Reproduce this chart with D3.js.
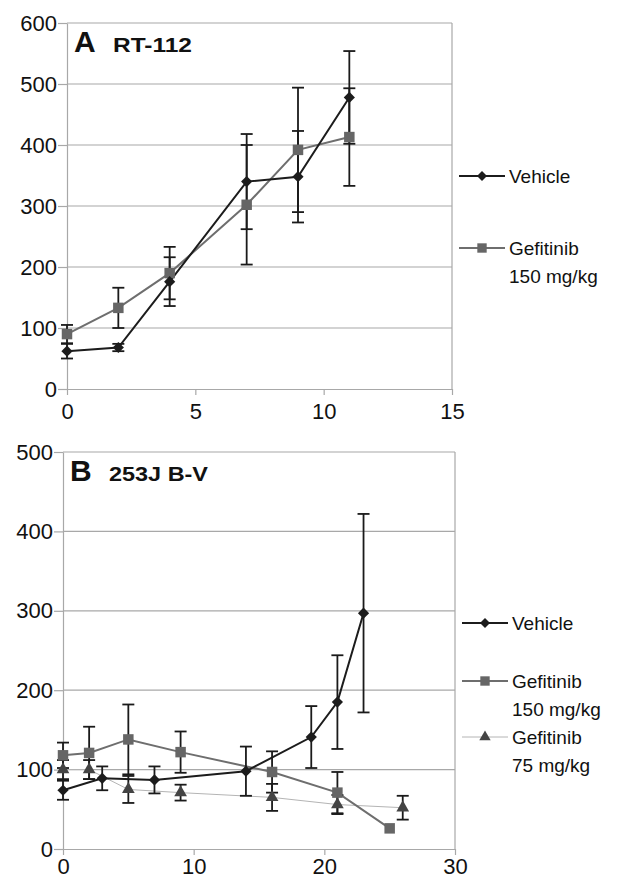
<!DOCTYPE html>
<html>
<head>
<meta charset="utf-8">
<script src="https://cdn.jsdelivr.net/npm/d3@7"></script>
<style>
  body { margin: 0; background: #fff; }
  svg { display: block; font-family: "Liberation Sans", Arial, sans-serif; }
</style>
</head>
<body>
<svg id="chart" width="617" height="880"></svg>
<script>
// ---- panel A: RT-112 ----
var daysA = [0, 2, 4, 7, 9, 11]
var vehA = [62, 68, 176, 340, 348, 478]
var vehA_err = [12, 6, 40, 78, 75, 76]
var g150A = [90, 133, 190, 302, 392, 413]
var g150A_err = [15, 33, 43, 98, 102, 80]
var xTicksA = [0, 5, 10, 15]
var yTicksA = [0, 100, 200, 300, 400, 500, 600]

// ---- panel B: 253J B-V ----
var vehB_days = [0, 3, 7, 14, 19, 21, 23]
var vehB = [74, 89, 87, 98, 141, 185, 297]
var vehB_err = [12, 15, 17, 31, 39, 59, 125]
var g150B_days = [0, 2, 5, 9, 16, 21, 25]
var g150B = [118, 121, 138, 122, 97, 71, 26]
var g150B_err = [16, 33, 44, 26, 26, 26, 0]
var g75B_days = [0, 2, 5, 9, 16, 21, 26]
var g75B = [100, 100, 75, 71, 65, 56, 52]
var g75B_err = [12, 12, 17, 10, 17, 12, 15]
var xTicksB = [0, 10, 20, 30]
var yTicksB = [0, 100, 200, 300, 400, 500]

var svg = d3.select('#chart')

// series styles
var styles = {
  veh: { line: '#1c1c1c', width: 2, fill: '#1c1c1c', sym: d3.symbolDiamond2, size: 80 },
  g150: { line: '#6e6e6e', width: 2, fill: '#666', sym: d3.symbolSquare, size: 110 },
  g75: { line: '#b4b4b4', width: 1, fill: '#444', sym: d3.symbolTriangle, size: 70 }
}

function zip(xs, ys, es) {
  return xs.map(function (x, i) { return { x: x, y: ys[i], e: es[i] } })
}

function panel(opt) {
  var x = d3.scaleLinear().domain(opt.xDomain).range([opt.left, opt.right])
  var y = d3.scaleLinear().domain(opt.yDomain).range([opt.bottom, opt.top])
  var g = svg.append('g')

  // gridlines
  g.selectAll('.grid').data(opt.yTicks.slice(1)).enter().append('line')
    .attr('x1', opt.left).attr('x2', opt.right)
    .attr('y1', function (d) { return y(d) }).attr('y2', function (d) { return y(d) })
    .attr('stroke', '#a8a8a8').attr('stroke-width', 1.2)
  // right border
  g.append('line').attr('x1', opt.right).attr('x2', opt.right)
    .attr('y1', opt.top).attr('y2', opt.bottom)
    .attr('stroke', '#a8a8a8').attr('stroke-width', 1.2)

  var yAxis = d3.axisLeft(y).tickValues(opt.yTicks).tickSize(9).tickSizeOuter(0).tickPadding(1)
  var xAxis = d3.axisBottom(x).tickValues(opt.xTicks).tickSize(6).tickSizeOuter(0).tickPadding(opt.xPad)
  var ya = g.append('g').attr('transform', 'translate(' + opt.left + ',0)').call(yAxis)
  var xa = g.append('g').attr('transform', 'translate(0,' + opt.bottom + ')').call(xAxis)
  ;[ya, xa].forEach(function (a) {
    a.selectAll('path,line').attr('stroke', '#a8a8a8').attr('stroke-width', 1.2)
    a.selectAll('text').attr('fill', '#111').style('font-size', '22px')
  })

  // series
  opt.series.forEach(function (s) {
    var st = styles[s.key]
    var line = d3.line().x(function (d) { return x(d.x) }).y(function (d) { return y(d.y) })
    g.append('path').datum(s.data).attr('d', line)
      .attr('fill', 'none').attr('stroke', st.line).attr('stroke-width', st.width)
  })
  opt.series.forEach(function (s) {
    var eb = g.selectAll(null).data(s.data.filter(function (d) { return d.e > 0 })).enter().append('g')
    eb.append('line')
      .attr('x1', function (d) { return x(d.x) }).attr('x2', function (d) { return x(d.x) })
      .attr('y1', function (d) { return y(d.y + d.e) }).attr('y2', function (d) { return y(d.y - d.e) })
    ;[1, -1].forEach(function (sg) {
      eb.append('line')
        .attr('x1', function (d) { return x(d.x) - 6 }).attr('x2', function (d) { return x(d.x) + 6 })
        .attr('y1', function (d) { return y(d.y + sg * d.e) }).attr('y2', function (d) { return y(d.y + sg * d.e) })
    })
    eb.selectAll('line').attr('stroke', '#1a1a1a').attr('stroke-width', 1.8)
  })
  opt.series.forEach(function (s) {
    var st = styles[s.key]
    g.selectAll(null).data(s.data).enter().append('path')
      .attr('d', d3.symbol().type(st.sym).size(st.size))
      .attr('transform', function (d) { return 'translate(' + x(d.x) + ',' + y(d.y) + ')' })
      .attr('fill', st.fill)
  })

  // title
  g.append('text').attr('x', opt.left + 7).attr('y', opt.top + 29)
    .attr('font-weight', 'bold').style('font-size', '30px').attr('fill', '#111').text(opt.letter)
  g.append('text').attr('x', opt.left + 46).attr('y', opt.top + 29)
    .attr('font-weight', 'bold').style('font-size', '21px').attr('fill', '#111')
    .attr('textLength', opt.nameLen).attr('lengthAdjust', 'spacingAndGlyphs').text(opt.name)

  // legend
  opt.legend.forEach(function (l) {
    var st = styles[l.key]
    var lx = opt.right + 7
    g.append('line').attr('x1', lx).attr('x2', lx + 46).attr('y1', l.y).attr('y2', l.y)
      .attr('stroke', st.line).attr('stroke-width', st.width)
    g.append('path').attr('d', d3.symbol().type(st.sym).size(st.size * 0.8))
      .attr('transform', 'translate(' + (lx + 23) + ',' + l.y + ')').attr('fill', st.fill)
    l.lines.forEach(function (t, i) {
      g.append('text').attr('x', lx + 50).attr('y', l.y + 7 + i * 28)
        .style('font-size', '19px').attr('fill', '#111').text(t)
    })
  })
}

panel({
  left: 67, right: 452, top: 23, bottom: 389, xPad: 8,
  xDomain: [0, 15], yDomain: [0, 600], xTicks: xTicksA, yTicks: yTicksA,
  letter: 'A', name: 'RT-112', nameLen: 79,
  series: [
    { key: 'g150', data: zip(daysA, g150A, g150A_err) },
    { key: 'veh', data: zip(daysA, vehA, vehA_err) }
  ],
  legend: [
    { key: 'veh', y: 176, lines: ['Vehicle'] },
    { key: 'g150', y: 248, lines: ['Gefitinib', '150 mg/kg'] }
  ]
})

panel({
  left: 63, right: 455, top: 452, bottom: 849, xPad: 3,
  xDomain: [0, 30], yDomain: [0, 500], xTicks: xTicksB, yTicks: yTicksB,
  letter: 'B', name: '253J B-V', nameLen: 99,
  series: [
    { key: 'g75', data: zip(g75B_days, g75B, g75B_err) },
    { key: 'g150', data: zip(g150B_days, g150B, g150B_err) },
    { key: 'veh', data: zip(vehB_days, vehB, vehB_err) }
  ],
  legend: [
    { key: 'veh', y: 623, lines: ['Vehicle'] },
    { key: 'g150', y: 681, lines: ['Gefitinib', '150 mg/kg'] },
    { key: 'g75', y: 737, lines: ['Gefitinib', '75 mg/kg'] }
  ]
})
</script>
</body>
</html>
